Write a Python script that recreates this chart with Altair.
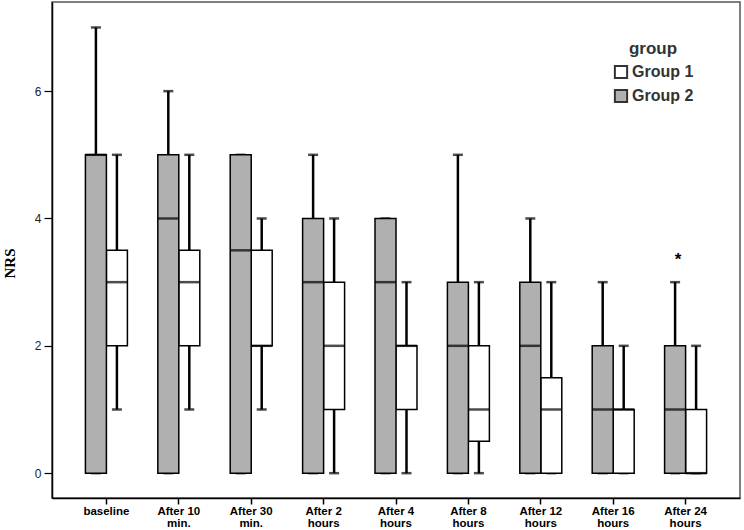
import altair as alt
import pandas as pd

# Time points on the x axis ("\n" marks the line break in the tick label)
categories = [
    "baseline", "After 10\nmin.", "After 30\nmin.", "After 2\nhours",
    "After 4\nhours", "After 8\nhours", "After 12\nhours",
    "After 16\nhours", "After 24\nhours",
]

# Five-number summaries of NRS per group
g1_min = [1, 1, 1, 0, 0, 0, 0, 0, 0]
g1_q1 = [2, 2, 2, 1, 1, 0.5, 0, 0, 0]
g1_med = [3, 3, 2, 2, 2, 1, 1, 1, 0]
g1_q3 = [3.5, 3.5, 3.5, 3, 2, 2, 1.5, 1, 1]
g1_max = [5, 5, 4, 4, 3, 3, 3, 2, 2]

g2_min = [0, 0, 0, 0, 0, 0, 0, 0, 0]
g2_q1 = [0, 0, 0, 0, 0, 0, 0, 0, 0]
g2_med = [5, 4, 3.5, 3, 3, 2, 2, 1, 1]
g2_q3 = [5, 5, 5, 4, 4, 3, 3, 2, 2]
g2_max = [7, 6, 5, 5, 4, 5, 4, 3, 3]

# Extreme value marker
extreme_cat = ["After 24\nhours"]
extreme_group = ["Group 2"]
extreme_val = [3.4]

groups = ["Group 1", "Group 2"]
fills = ["#ffffff", "#b0b0b0"]

rows = []
for name, mn, q1, md, q3, mx in [
    ("Group 1", g1_min, g1_q1, g1_med, g1_q3, g1_max),
    ("Group 2", g2_min, g2_q1, g2_med, g2_q3, g2_max),
]:
    for i, c in enumerate(categories):
        rows.append(dict(time=c, group=name, lo=mn[i], q1=q1[i],
                         med=md[i], q3=q3[i], hi=mx[i]))
df = pd.DataFrame(rows)
ext = pd.DataFrame(dict(time=extreme_cat, group=extreme_group, v=extreme_val))

x = alt.X(
    "time:N", sort=categories, title=None,
    scale=alt.Scale(paddingInner=0.42, paddingOuter=0.4615),
    axis=alt.Axis(
        labelExpr="split(datum.label, '\\n')", labelAngle=0,
        labelFont="Liberation Sans", labelFontWeight="bold",
        labelFontSize=11.5, labelColor="#000", labelLineHeight=12.5,
        labelPadding=1, tickSize=6, tickColor="#000", tickWidth=1.5,
        domainColor="#000", domainWidth=1.5,
    ),
)
xoff = alt.XOffset("group:N", sort=["Group 2", "Group 1"],
                   scale=alt.Scale(paddingInner=0, paddingOuter=0))
yscale = alt.Scale(domain=[-0.39, 7.40], nice=False, zero=False)
yaxis = alt.Axis(
    values=[0, 2, 4, 6], format="d", grid=False, title="NRS",
    titleFont="Liberation Serif", titleFontWeight="bold", titleFontSize=15,
    titleColor="#000", titleAngle=270, titleX=-43, titleY=261,
    titleAlign="center", titleBaseline="middle",
    labelFont="Liberation Sans", labelFontSize=12, labelColor="#222",
    labelPadding=3, tickSize=8, tickColor="#000", tickWidth=1.2,
    domainColor="#000", domainWidth=1.5,
)

base = alt.Chart(df).encode(x=x, xOffset=xoff)

upper = base.mark_rule(color="#000", strokeWidth=2.5).encode(
    y=alt.Y("q3:Q", scale=yscale, axis=yaxis), y2="hi:Q")
lower = base.mark_rule(color="#000", strokeWidth=2.5).encode(
    y=alt.Y("lo:Q", scale=yscale), y2="q1:Q")
cap_hi = base.mark_tick(color="#000", size=10, thickness=2.5).encode(
    y=alt.Y("hi:Q", scale=yscale))
cap_lo = base.mark_tick(color="#000", size=10, thickness=2.5).encode(
    y=alt.Y("lo:Q", scale=yscale))
boxes = base.mark_bar(stroke="#000", strokeWidth=1.5).encode(
    y=alt.Y("q1:Q", scale=yscale), y2="q3:Q",
    color=alt.Color(
        "group:N", scale=alt.Scale(domain=groups, range=fills),
        legend=alt.Legend(
            title="group", orient="none", legendX=561, legendY=39,
            symbolType="square", symbolSize=150, symbolStrokeColor="#333",
            symbolStrokeWidth=2, symbolOpacity=1,
            labelFont="Liberation Sans", labelFontSize=16,
            labelFontWeight="bold", labelColor="#333",
            titleFont="Liberation Sans", titleFontSize=17,
            titleFontWeight="bold", titleColor="#333",
            titleAnchor="middle", titleAlign="center", titlePadding=6,
            rowPadding=2, labelOffset=3,
        ),
    ),
)
medians = base.mark_tick(color="#000", size=21, thickness=2.5).encode(
    y=alt.Y("med:Q", scale=yscale))

star = alt.Chart(ext).mark_text(
    text="*", font="Liberation Sans", fontSize=17, fontWeight="bold",
    color="#000", baseline="middle", dy=3, dx=3,
).encode(x=alt.X("time:N", sort=categories),
         xOffset=alt.XOffset("group:N", sort=["Group 2", "Group 1"]),
         y=alt.Y("v:Q", scale=yscale))

chart = alt.layer(upper, lower, cap_hi, cap_lo, boxes, medians, star).properties(
    width=688, height=496,
    autosize=alt.AutoSizeParams(type="none"),
    padding={"left": 52, "top": 2, "right": 4, "bottom": 32},
    background="#ffffff",
).configure_view(stroke="#555", strokeWidth=1.5)

chart.save("out.html", embed_options={"renderer": "svg", "actions": False})
